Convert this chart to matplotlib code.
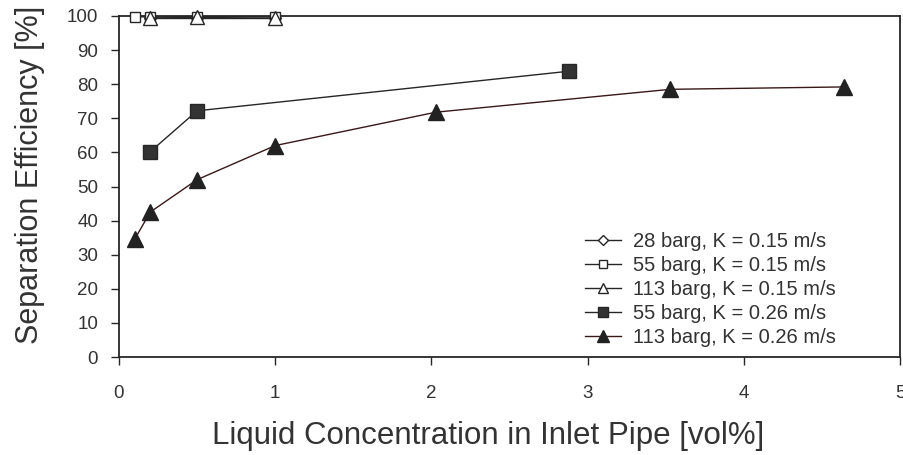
import matplotlib.pyplot as plt

plt.rcParams['font.family'] = ['Liberation Sans', 'DejaVu Sans']

# 28 barg, K = 0.15 m/s
x_28_015 = [0.2, 0.5, 1.0]
y_28_015 = [99.5, 99.5, 99.5]
# 55 barg, K = 0.15 m/s
x_55_015 = [0.1, 0.2, 0.5, 1.0]
y_55_015 = [99.8, 99.7, 99.8, 99.7]
# 113 barg, K = 0.15 m/s
x_113_015 = [0.2, 0.5, 1.0]
y_113_015 = [99.4, 99.6, 99.3]
# 55 barg, K = 0.26 m/s
x_55_026 = [0.2, 0.5, 2.88]
y_55_026 = [60.2, 72.2, 83.8]
# 113 barg, K = 0.26 m/s
x_113_026 = [0.1, 0.2, 0.5, 1.0, 2.03, 3.53, 4.64]
y_113_026 = [34.5, 42.5, 52.0, 62.0, 71.8, 78.5, 79.2]

txt = '#333333'
ink = '#262626'

fig = plt.figure(figsize=(9.04, 4.55), dpi=100)
ax = fig.add_axes([119 / 904, 1 - 357 / 455, 781 / 904, 341 / 455])

ax.plot(x_28_015, y_28_015, '-', color=ink, lw=1, marker='D', ms=6.5,
        mfc='white', mec=ink, label='28 barg, K = 0.15 m/s', clip_on=False, zorder=3)
ax.plot(x_55_015, y_55_015, '-', color=ink, lw=1, marker='s', ms=7.5,
        mfc='white', mec=ink, label='55 barg, K = 0.15 m/s', clip_on=False, zorder=3)
ax.plot(x_113_015, y_113_015, '-', color=ink, lw=1, marker='^', ms=10,
        mfc='white', mec=ink, label='113 barg, K = 0.15 m/s', clip_on=False, zorder=3)
ax.plot(x_55_026, y_55_026, '-', color=ink, lw=1, marker='s', ms=10,
        mfc='#333333', mec=ink, label='55 barg, K = 0.26 m/s', clip_on=False, zorder=3)
ax.plot(x_113_026, y_113_026, '-', color='#3a1818', lw=1, marker='^', ms=11,
        mfc='#222222', mec='#222222', label='113 barg, K = 0.26 m/s', clip_on=False, zorder=3)

ax.set_xlim(0, 5)
ax.set_ylim(0, 100)
ax.set_xticks(range(0, 6))
ax.set_yticks(range(0, 101, 10))
ax.tick_params(direction='out', length=6, width=1, labelsize=13.5,
               color=ink, labelcolor=txt)
ax.tick_params(axis='x', pad=14)
ax.tick_params(axis='y', pad=9)
for s in ax.spines.values():
    s.set_linewidth(1.3)
    s.set_color(ink)

ax.set_xlabel('Liquid Concentration in Inlet Pipe [vol%]', fontsize=22.5, color=txt)
ax.set_ylabel('Separation Efficiency [%]', fontsize=22, color=txt)
ax.xaxis.set_label_coords(0.4725, -0.1877)
ax.yaxis.set_label_coords(-0.095, 0.5337)

leg = ax.legend(loc='lower left', bbox_to_anchor=(0.597, 0.03), frameon=False,
                fontsize=14.5, handlelength=1.75, handletextpad=0.6,
                labelspacing=0.25, borderpad=0, borderaxespad=0, markerscale=0.75)
for t in leg.get_texts():
    t.set_color(txt)

fig.savefig('out.png', dpi=100)
